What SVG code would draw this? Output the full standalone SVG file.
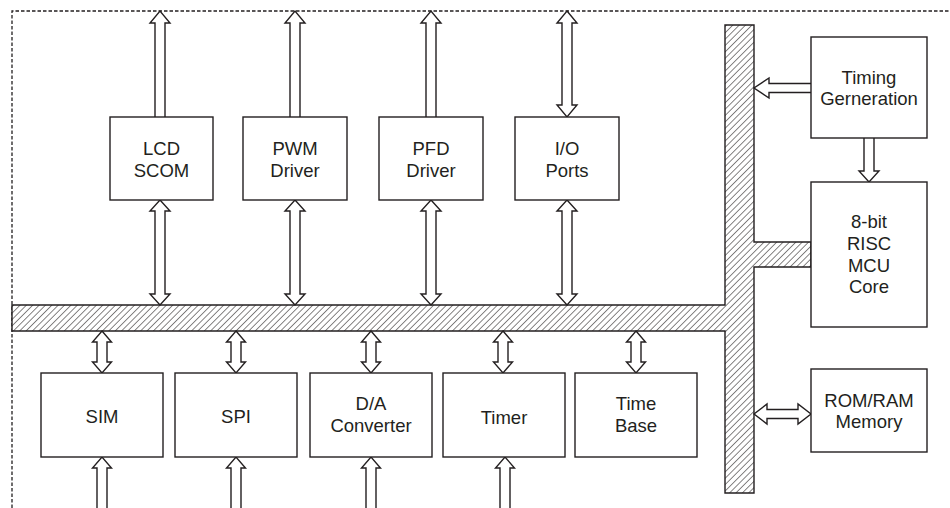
<svg xmlns="http://www.w3.org/2000/svg" width="950" height="508" viewBox="0 0 950 508">
<defs>
<pattern id="hatch" patternUnits="userSpaceOnUse" width="4.5" height="4.5" patternTransform="rotate(45)">
<rect width="4.5" height="4.5" fill="#fff"/>
<line x1="0" y1="0" x2="0" y2="4.5" stroke="#231f20" stroke-width="1.1"/>
</pattern>
<style>
.box{fill:#fff;stroke:#231f20;stroke-width:1.4}
.arr{fill:#fff;stroke:#231f20;stroke-width:1.4;stroke-linejoin:miter}
.t{font-family:"Liberation Sans",Arial,sans-serif;font-size:18.5px;fill:#231f20;text-anchor:middle}
</style>
</defs>
<rect width="950" height="508" fill="#fff"/>
<path d="M12,508 L12,11 L950,11" fill="none" stroke="#231f20" stroke-width="1.3" stroke-dasharray="3.5 2"/>

<g id="bus">
<path d="M12,305 L725,305 L725,25 L754,25 L754,242 L811,242 L811,267 L754,267 L754,493 L725,493 L725,331 L12,331 Z" fill="url(#hatch)" stroke="#231f20" stroke-width="1.4"/>
</g>

<g id="connectors">
<path class="arr" d="M155,117 L155,23 L150,23 L160,11 L170,23 L165,23 L165,117"/>
<path class="arr" d="M290,117 L290,23 L285,23 L295,11 L305,23 L300,23 L300,117"/>
<path class="arr" d="M426,117 L426,23 L421,23 L431,11 L441,23 L436,23 L436,117"/>
<path class="arr" d="M567,11 L577,23 L572,23 L572,105 L577,105 L567,117 L557,105 L562,105 L562,23 L557,23 Z"/>
<path class="arr" d="M160,200 L170,211 L165,211 L165,294 L170,294 L160,305 L150,294 L155,294 L155,211 L150,211 Z"/>
<path class="arr" d="M295,200 L305,211 L300,211 L300,294 L305,294 L295,305 L285,294 L290,294 L290,211 L285,211 Z"/>
<path class="arr" d="M431,200 L441,211 L436,211 L436,294 L441,294 L431,305 L421,294 L426,294 L426,211 L421,211 Z"/>
<path class="arr" d="M567,200 L577,211 L572,211 L572,294 L577,294 L567,305 L557,294 L562,294 L562,211 L557,211 Z"/>
<path class="arr" d="M102,331 L111.5,342 L107,342 L107,362 L111.5,362 L102,373 L92.5,362 L97,362 L97,342 L92.5,342 Z"/>
<path class="arr" d="M236,331 L245.5,342 L241,342 L241,362 L245.5,362 L236,373 L226.5,362 L231,362 L231,342 L226.5,342 Z"/>
<path class="arr" d="M371,331 L380.5,342 L376,342 L376,362 L380.5,362 L371,373 L361.5,362 L366,362 L366,342 L361.5,342 Z"/>
<path class="arr" d="M503,331 L512.5,342 L508,342 L508,362 L512.5,362 L503,373 L493.5,362 L498,362 L498,342 L493.5,342 Z"/>
<path class="arr" d="M636,331 L645.5,342 L641,342 L641,362 L645.5,362 L636,373 L626.5,362 L631,362 L631,342 L626.5,342 Z"/>
<path class="arr" d="M97,509 L97,468 L92.5,468 L102,457 L111.5,468 L107,468 L107,509"/>
<path class="arr" d="M231,509 L231,468 L226.5,468 L236,457 L245.5,468 L241,468 L241,509"/>
<path class="arr" d="M366,509 L366,468 L361.5,468 L371,457 L380.5,468 L376,468 L376,509"/>
<path class="arr" d="M500,509 L500,468 L495.5,468 L505,457 L514.5,468 L510,468 L510,509"/>
<path class="arr" d="M811,83.5 L769,83.5 L769,78 L754,88 L769,98 L769,92.5 L811,92.5"/>
<path class="arr" d="M864,138 L864,171 L859,171 L869,182 L879,171 L874,171 L874,138"/>
<path class="arr" d="M754,414 L767,404 L767,409.5 L798,409.5 L798,404 L811,414 L798,424 L798,418.5 L767,418.5 L767,424 Z"/>
</g>

<g id="lcd"><rect class="box" x="110" y="117" width="103" height="83"/><text class="t" x="161.5" y="155">LCD</text><text class="t" x="161.5" y="177">SCOM</text></g>
<g id="pwm"><rect class="box" x="243" y="117" width="104" height="83"/><text class="t" x="295" y="155">PWM</text><text class="t" x="295" y="177">Driver</text></g>
<g id="pfd"><rect class="box" x="379" y="117" width="104" height="83"/><text class="t" x="431" y="155">PFD</text><text class="t" x="431" y="177">Driver</text></g>
<g id="io"><rect class="box" x="515" y="117" width="104" height="83"/><text class="t" x="567" y="155">I/O</text><text class="t" x="567" y="177">Ports</text></g>

<g id="timing"><rect class="box" x="811" y="37" width="116" height="101"/><text class="t" x="869" y="83.5">Timing</text><text class="t" x="869" y="105">Gerneration</text></g>
<g id="mcu"><rect class="box" x="811" y="182" width="116" height="145"/><text class="t" x="869" y="228">8-bit</text><text class="t" x="869" y="249.5">RISC</text><text class="t" x="869" y="271.5">MCU</text><text class="t" x="869" y="293">Core</text></g>
<g id="mem"><rect class="box" x="811" y="369" width="116" height="83"/><text class="t" x="869" y="407">ROM/RAM</text><text class="t" x="869" y="428">Memory</text></g>

<g id="sim"><rect class="box" x="41" y="373" width="122" height="84"/><text class="t" x="102" y="423">SIM</text></g>
<g id="spi"><rect class="box" x="175" y="373" width="122" height="84"/><text class="t" x="236" y="423">SPI</text></g>
<g id="dac"><rect class="box" x="310" y="373" width="122" height="84"/><text class="t" x="371" y="410">D/A</text><text class="t" x="371" y="431.5">Converter</text></g>
<g id="timer"><rect class="box" x="443" y="373" width="122" height="84"/><text class="t" x="504" y="424">Timer</text></g>
<g id="timebase"><rect class="box" x="575" y="373" width="122" height="84"/><text class="t" x="636" y="410">Time</text><text class="t" x="636" y="431.5">Base</text></g>
</svg>
